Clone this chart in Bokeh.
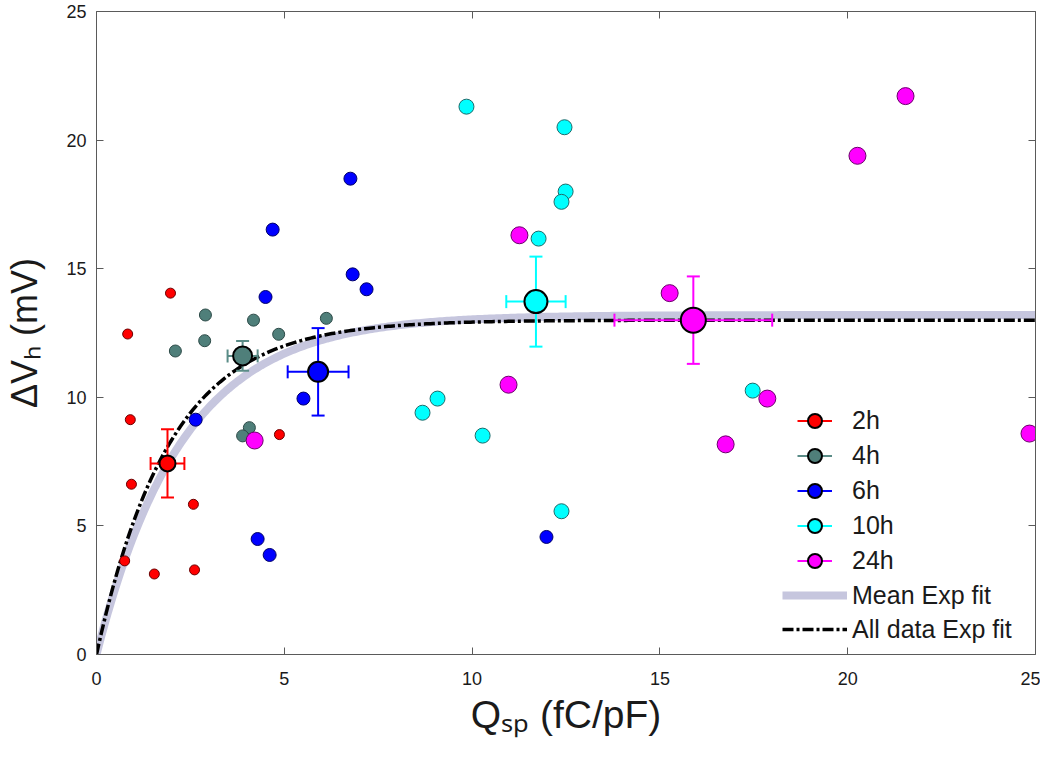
import numpy as np
from bokeh.plotting import figure
from bokeh.models import (ColumnDataSource, Legend, LegendItem, LinearAxis,
                          Range1d, FixedTicker, CustomJSTickFormatter)
from bokeh.embed import file_html
from bokeh.resources import INLINE

# ---------------- data ----------------
groups = ["2h", "4h", "6h", "10h", "24h"]

x_2h = [0.83, 1.97, 0.90, 0.93, 0.75, 1.54, 2.58, 2.61, 4.87]
y_2h = [12.46, 14.05, 9.13, 6.62, 3.64, 3.13, 5.84, 3.29, 8.55]

x_4h = [2.90, 4.18, 2.10, 2.88, 4.85, 6.12, 4.07, 3.89, 3.91]
y_4h = [13.20, 13.00, 11.80, 12.20, 12.45, 13.07, 8.82, 8.50, 11.57]

x_6h = [4.69, 6.76, 6.82, 7.19, 4.50, 5.51, 2.64, 4.29, 4.61, 11.98]
y_6h = [16.52, 18.50, 14.78, 14.20, 13.90, 9.95, 9.13, 4.49, 3.87, 4.57]

x_10h = [9.85, 12.46, 12.49, 12.38, 11.77, 9.08, 8.68, 10.28, 12.38, 17.47]
y_10h = [21.30, 20.50, 18.00, 17.60, 16.17, 9.95, 9.40, 8.51, 5.57, 10.26]

x_24h = [21.54, 20.26, 11.26, 15.26, 10.97, 4.21, 17.86, 16.75, 24.84]
y_24h = [21.71, 19.39, 16.30, 14.05, 10.49, 8.32, 9.95, 8.17, 8.59]

mean_x = [1.89, 3.89, 5.90, 11.70, 15.89]
mean_y = [7.43, 11.61, 10.99, 13.72, 13.00]
err_x = [0.45, 0.40, 0.81, 0.79, 2.10]
err_y = [1.33, 0.58, 1.70, 1.75, 1.70]

# exponential fit parameters  y = A * (1 - exp(-x / tau))
fit_mean_A, fit_mean_tau = 13.2, 2.3
fit_all_A, fit_all_tau = 13.0, 1.95

x_ticks = [0, 5, 10, 15, 20, 25]
y_ticks = [0, 5, 10, 15, 20, 25]
x_title = "Q\u209b\u209a (fC/pF)"
y_title = "\u0394V\u2095 (mV)"

# ---------------- styles ----------------
FONT = "Liberation Sans"
fill_colors = ["#ff0000", "#4f7f7a", "#0000ff", "#00ffff", "#ff00ff"]
edge_colors = ["#6a0000", "#2c4a47", "#00006a", "#1f6b6b", "#6a006a"]
err_colors = ["#ff0000", "#5a8c87", "#0000ff", "#00ffff", "#ff00ff"]
point_sizes = [10, 12, 13, 15, 17]
mean_sizes = [16, 19, 20, 23, 25]
AXIS_COL = "#5a5a5a"
TEXT_COL = "#1a1a1a"

p = figure(frame_width=939, frame_height=643,
           x_range=Range1d(0, 25), y_range=Range1d(0, 25),
           output_backend="svg", toolbar_location=None,
           min_border_left=96, min_border_top=11, min_border_right=5,
           min_border_bottom=40, background_fill_color="white",
           border_fill_color="white", outline_line_color=None)
p.xgrid.visible = False
p.ygrid.visible = False

for ax in (p.xaxis[0], p.yaxis[0]):
    ax.major_tick_in = 7
    ax.major_tick_out = 0
    ax.minor_tick_line_color = None
    ax.axis_line_color = AXIS_COL
    ax.major_tick_line_color = AXIS_COL
    ax.major_label_text_font = FONT
    ax.major_label_text_font_size = "18px"
    ax.major_label_text_color = TEXT_COL
    ax.axis_label_text_font = FONT
    ax.axis_label_text_font_style = "normal"
    ax.axis_label_text_color = TEXT_COL
p.xaxis[0].axis_label_text_font_size = "39px"
p.yaxis[0].axis_label_text_font_size = "36px"
p.xaxis[0].ticker = FixedTicker(ticks=x_ticks)
p.yaxis[0].ticker = FixedTicker(ticks=y_ticks)
p.xaxis[0].major_label_standoff = 17
p.yaxis[0].major_label_standoff = 10
p.xaxis[0].axis_label = x_title
p.yaxis[0].axis_label = y_title
p.xaxis[0].axis_label_standoff = 5
p.yaxis[0].axis_label_standoff = 18

blank = CustomJSTickFormatter(code="return ''")
top_ax = LinearAxis(ticker=FixedTicker(ticks=x_ticks), formatter=blank,
                    major_tick_in=7, major_tick_out=0, minor_tick_line_color=None,
                    axis_line_color=AXIS_COL, major_tick_line_color=AXIS_COL,
                    major_label_standoff=0)
right_ax = LinearAxis(ticker=FixedTicker(ticks=y_ticks), formatter=blank,
                      major_tick_in=7, major_tick_out=0, minor_tick_line_color=None,
                      axis_line_color=AXIS_COL, major_tick_line_color=AXIS_COL,
                      major_label_standoff=0)
p.add_layout(top_ax, "above")
p.add_layout(right_ax, "right")

# ---------------- fit curves ----------------
xf = np.linspace(0, 25, 400)
r_fit_mean = p.line(xf, fit_mean_A * (1 - np.exp(-xf / fit_mean_tau)),
                    line_color="#c6c6de", line_width=8)
r_fit_all = p.line(xf, fit_all_A * (1 - np.exp(-xf / fit_all_tau)),
                   line_color="black", line_width=3.5, line_dash="11 3 3 3")

# ---------------- individual points ----------------
xs = [x_2h, x_4h, x_6h, x_10h, x_24h]
ys = [y_2h, y_4h, y_6h, y_10h, y_24h]
for i in range(5):
    p.scatter(xs[i], ys[i], size=point_sizes[i], fill_color=fill_colors[i],
              line_color=edge_colors[i], line_width=1)

# ---------------- means with error bars ----------------
mx = np.array(mean_x); my = np.array(mean_y)
ex = np.array(err_x); ey = np.array(err_y)
ms = ColumnDataSource(dict(x=mx, y=my, xl=mx - ex, xu=mx + ex, yl=my - ey, yu=my + ey,
                           ecol=err_colors, fcol=fill_colors, size=mean_sizes))
r_xerr = p.segment(x0="xl", y0="y", x1="xu", y1="y", source=ms,
                   line_color="ecol", line_width=2)
p.segment(x0="x", y0="yl", x1="x", y1="yu", source=ms, line_color="ecol", line_width=2)
p.scatter(x="xl", y="y", source=ms, marker="dash", angle=np.pi / 2, size=13,
          line_color="ecol", line_width=2)
p.scatter(x="xu", y="y", source=ms, marker="dash", angle=np.pi / 2, size=13,
          line_color="ecol", line_width=2)
p.scatter(x="x", y="yl", source=ms, marker="dash", size=13, line_color="ecol", line_width=2)
p.scatter(x="x", y="yu", source=ms, marker="dash", size=13, line_color="ecol", line_width=2)
r_mean = p.scatter(x="x", y="y", source=ms, size="size", fill_color="fcol",
                   line_color="black", line_width=2)

# ---------------- legends ----------------
leg_style = dict(spacing=0, padding=0, margin=0, border_line_color=None,
                 background_fill_alpha=0, label_text_font=FONT,
                 label_text_font_size="25px", label_text_color=TEXT_COL)
legA = Legend(items=[LegendItem(label=g, renderers=[r_xerr, r_mean], index=i)
                     for i, g in enumerate(groups)],
              location=(701, 76), glyph_width=35, glyph_height=35, label_height=35,
              label_standoff=20, **leg_style)
legB = Legend(items=[LegendItem(label="Mean Exp fit", renderers=[r_fit_mean]),
                     LegendItem(label="All data Exp fit", renderers=[r_fit_all])],
              location=(686, 8), glyph_width=65, glyph_height=34, label_height=34,
              label_standoff=5, **leg_style)
p.add_layout(legA)
p.add_layout(legB)

open("out.html", "w").write(file_html(p, INLINE))
